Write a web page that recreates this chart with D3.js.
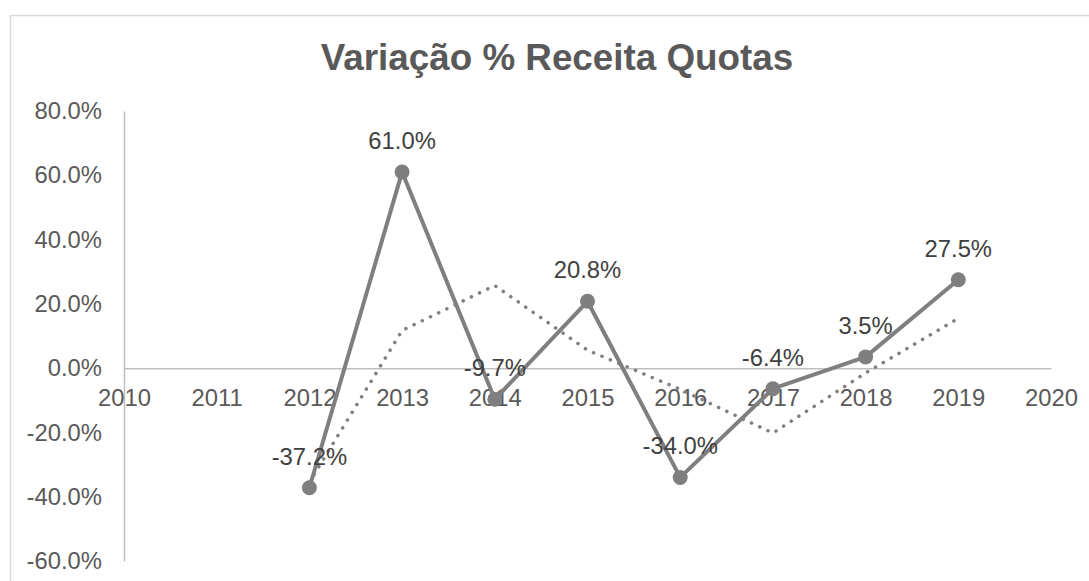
<!DOCTYPE html>
<html>
<head>
<meta charset="utf-8">
<script src="https://cdn.jsdelivr.net/npm/d3@7"></script>
<style>
  body { margin: 0; background: #fff; }
  svg { font-family: "Liberation Sans", Arial, sans-serif; }
</style>
</head>
<body>
<svg id="chart" width="1089" height="581"></svg>
<script>
var title = "Variação % Receita Quotas";
var years = [2010, 2011, 2012, 2013, 2014, 2015, 2016, 2017, 2018, 2019, 2020];
var varYears = [2012, 2013, 2014, 2015, 2016, 2017, 2018, 2019];
var variacao = [-37.2, 61.0, -9.7, 20.8, -34.0, -6.4, 3.5, 27.5];
var trendYears = [2012, 2013, 2014, 2015, 2016, 2017, 2018, 2019];
var tendencia = [-35.5, 11.7, 25.7, 5.6, -6.6, -20.2, -1.5, 15.5];
var yTicks = [80, 60, 40, 20, 0, -20, -40, -60];

var svg = d3.select("#chart");
var grey = "#7f7f7f";

// chart area border
svg.append("rect")
    .attr("x", 10.5).attr("y", 15.5)
    .attr("width", 1100).attr("height", 620)
    .attr("fill", "#fff")
    .attr("stroke", "#d9d9d9")
    .attr("stroke-width", 1.5);

svg.append("text")
    .attr("x", 557).attr("y", 70)
    .attr("text-anchor", "middle")
    .attr("font-size", 36.8)
    .attr("font-weight", "bold")
    .attr("fill", "#595959")
    .text(title);

var x = d3.scaleLinear().domain([2010, 2020]).range([124, 1051]),
    y = d3.scaleLinear().domain([-60, 80]).range([561, 111]);

// plain hyphen for negatives, like the original
var fmt = function(d) { return d3.format(".1f")(d).replace("\u2212", "-") + "%"; };

// y axis
var yAxis = svg.append("g")
    .attr("transform", "translate(124,0)")
    .call(d3.axisLeft(y).tickValues(yTicks).tickSize(0).tickPadding(22).tickFormat(fmt));
yAxis.select(".domain").attr("stroke", "#bfbfbf").attr("stroke-width", 1.5);
yAxis.selectAll("text")
    .attr("font-size", 23.8)
    .attr("fill", "#595959")
    .attr("font-family", "Liberation Sans, Arial, sans-serif");

// x axis on zero line
var xAxis = svg.append("g")
    .attr("transform", "translate(0," + y(0) + ")")
    .call(d3.axisBottom(x).tickValues(years).tickSize(0).tickPadding(21).tickFormat(d3.format("d")));
xAxis.select(".domain").attr("stroke", "#bfbfbf").attr("stroke-width", 1.5);
xAxis.selectAll("text")
    .attr("font-size", 23.8)
    .attr("fill", "#595959")
    .attr("font-family", "Liberation Sans, Arial, sans-serif");

// trend line (dotted)
var trend = trendYears.map(function(d, i) { return [d, tendencia[i]]; });
svg.append("path")
    .datum(trend)
    .attr("fill", "none")
    .attr("stroke", grey)
    .attr("stroke-width", 3.5)
    .attr("stroke-linecap", "round")
    .attr("stroke-linejoin", "round")
    .attr("stroke-dasharray", "0.1 9")
    .attr("d", d3.line()
        .x(function(d) { return x(d[0]); })
        .y(function(d) { return y(d[1]); }));

// main series
var data = varYears.map(function(d, i) { return { year: d, v: variacao[i] }; });
svg.append("path")
    .datum(data)
    .attr("fill", "none")
    .attr("stroke", grey)
    .attr("stroke-width", 4)
    .attr("stroke-linejoin", "round")
    .attr("d", d3.line()
        .x(function(d) { return x(d.year); })
        .y(function(d) { return y(d.v); }));

svg.selectAll(".dot")
    .data(data)
    .enter().append("circle")
      .attr("class", "dot")
      .attr("cx", function(d) { return x(d.year); })
      .attr("cy", function(d) { return y(d.v); })
      .attr("r", 7.5)
      .attr("fill", grey);

svg.selectAll(".lbl")
    .data(data)
    .enter().append("text")
      .attr("class", "lbl")
      .attr("x", function(d) { return x(d.year); })
      .attr("y", function(d) { return y(d.v) - 23; })
      .attr("text-anchor", "middle")
      .attr("font-size", 23.8)
      .attr("fill", "#404040")
      .text(function(d) { return fmt(d.v); });
</script>
</body>
</html>
